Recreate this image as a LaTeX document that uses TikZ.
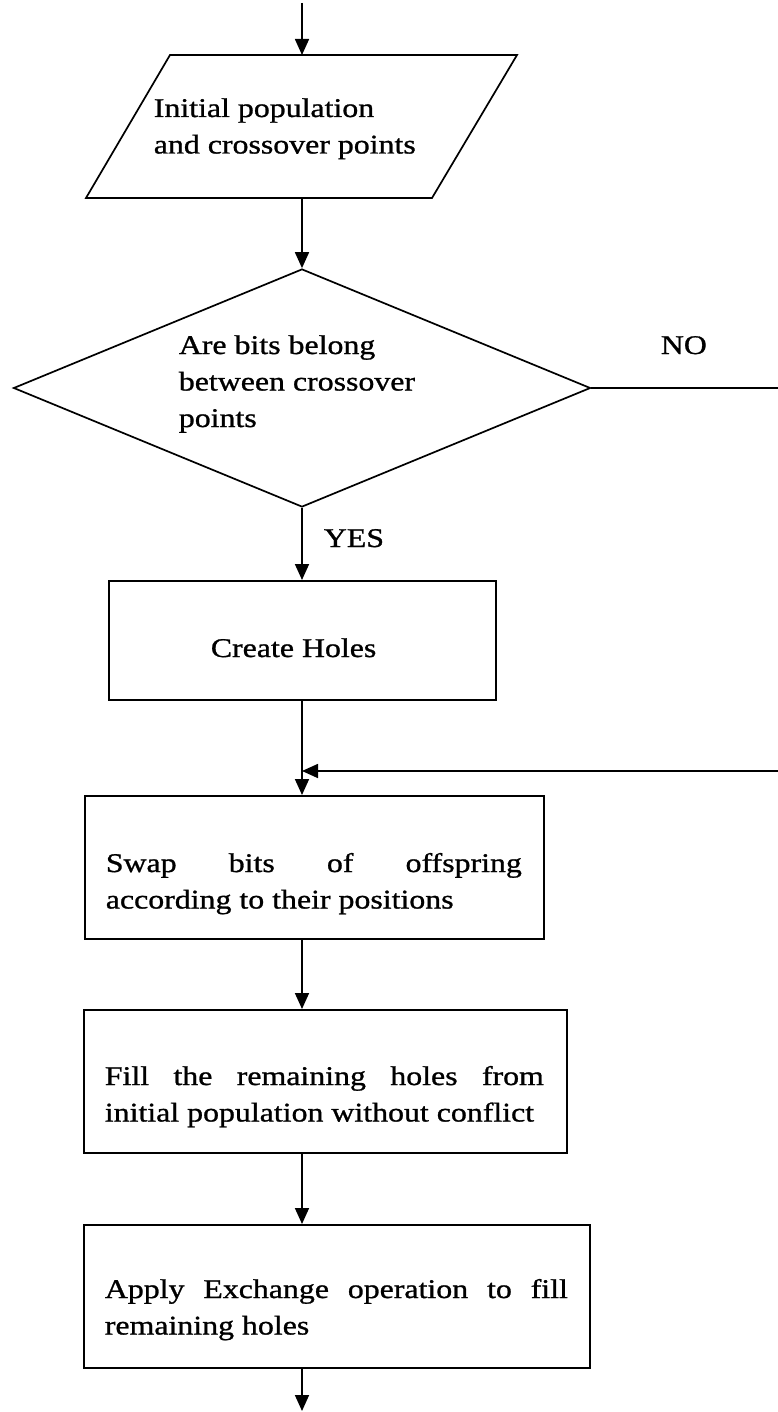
\documentclass[tikz,border=0pt]{standalone}
\usepackage{fontspec}
\setmainfont{Liberation Serif}[FakeStretch=1.18,FakeBold=1.0]
\usetikzlibrary{arrows.meta,shapes.geometric}
\newcommand\flowfont{\fontsize{27}{36.5}\selectfont}
\begin{document}
\begin{tikzpicture}[x=1pt,y=-1pt,line width=1.7pt,
  flow/.style={-{Triangle[length=16pt,width=14pt]}},
  stepbox/.style={draw,rectangle,inner sep=0pt,anchor=north west},
  txt/.style={anchor=base west,inner sep=0pt,font=\flowfont},
]
\useasboundingbox (0,0) rectangle (778,1412);

% vertical spine of the flow
\coordinate (spine) at (302,0);

% input parallelogram
\coordinate (p-tl) at (170,55);
\coordinate (p-tr) at (517,55);
\coordinate (p-br) at (432,198);
\coordinate (p-bl) at (86,198);
\draw (p-tl) -- (p-tr) -- (p-br) -- (p-bl) -- cycle;
\coordinate (in-top) at (302,55);
\coordinate (in-bot) at (302,198);
\coordinate (entry) at (302,3);
\node[txt] (t-in) at (153,117)
  {\parbox[t]{320pt}{Initial population\\and crossover points}};

% decision
\node[draw,diamond,inner sep=0pt,minimum width=577pt,minimum height=238pt]
  (test) at (302,388) {};
\node[txt] (t-test) at (178,354)
  {\parbox[t]{300pt}{Are bits belong\\between crossover\\points}};
\node[txt] (t-no) at (660,354) {NO};
\node[txt] (t-yes) at (323,547) {YES};

% process boxes
\node[stepbox,minimum width=387pt,minimum height=119pt] (holes) at (108,580) {};
\node[txt] (t-holes) at (210,657) {Create Holes};

\node[stepbox,minimum width=459pt,minimum height=143pt] (swap) at (84,795) {};
\node[txt] (t-swap) at (105,872)
  {\parbox[t]{416pt}{\makebox[416pt][s]{Swap bits of offspring}\\according to their positions}};

\node[stepbox,minimum width=483pt,minimum height=143pt] (fill) at (83,1009) {};
\node[txt] (t-fill) at (104,1085)
  {\parbox[t]{439pt}{\makebox[439pt][s]{Fill the remaining holes from}\\initial population without conflict}};

\node[stepbox,minimum width=506pt,minimum height=143pt] (apply) at (83,1224) {};
\node[txt] (t-apply) at (104,1298)
  {\parbox[t]{463pt}{\makebox[463pt][s]{Apply Exchange operation to fill}\\remaining holes}};

% connectors
\coordinate (no-end) at (778,388);
\coordinate (loop-in) at (778,771);
\coordinate (join) at (302,771);
\coordinate (exit) at (302,1411);

\draw[flow] (entry) -- (in-top);
\draw[flow] (in-bot) -- (test.north);
\draw (test.east) -- (no-end);
\draw[flow] (test.south) -- (holes.north -| spine);
\draw[flow] (holes.south -| spine) -- (swap.north -| spine);
\draw[flow] (loop-in) -- (join);
\draw[flow] (swap.south -| spine) -- (fill.north -| spine);
\draw[flow] (fill.south -| spine) -- (apply.north -| spine);
\draw[flow] (apply.south -| spine) -- (exit);
\end{tikzpicture}
\end{document}
